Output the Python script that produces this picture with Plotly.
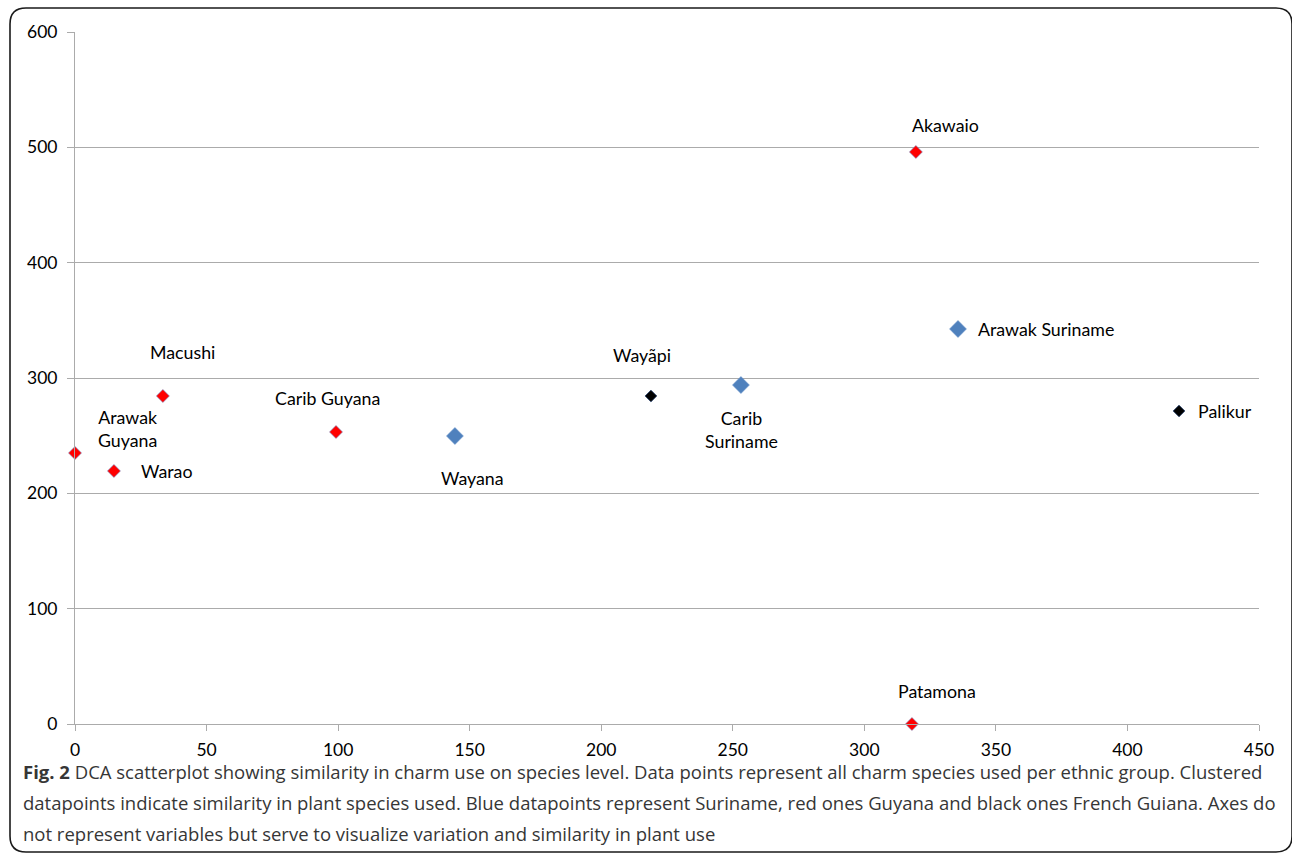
import plotly.graph_objects as go

# DCA scores per ethnic group
groups = ["Arawak Guyana", "Warao", "Macushi", "Carib Guyana", "Wayana", "Wayãpi",
          "Carib Suriname", "Akawaio", "Arawak Suriname", "Palikur", "Patamona"]
axis1 = [0, 14.8, 33.4, 99.2, 144.4, 218.9, 253.1, 319.6, 335.6, 419.6, 318.1]
axis2 = [235, 219.4, 284.4, 253.2, 249.7, 284.4, 293.9, 496, 342.5, 271.4, 0]
country = ["Guyana", "Guyana", "Guyana", "Guyana", "Suriname", "French Guiana",
           "Suriname", "Guyana", "Suriname", "French Guiana", "Guyana"]

x_ticks = [0, 50, 100, 150, 200, 250, 300, 350, 400, 450]
y_ticks = [0, 100, 200, 300, 400, 500, 600]

caption_lines = [
    "<b>Fig. 2</b> DCA scatterplot showing similarity in charm use on species level. "
    "Data points represent all charm species used per ethnic group. Clustered",
    "datapoints indicate similarity in plant species used. Blue datapoints represent "
    "Suriname, red ones Guyana and black ones French Guiana. Axes do",
    "not represent variables but serve to visualize variation and similarity in plant use",
]

W, H = 1292, 854
L, R, T, B = 75, 1259, 32, 724

marker_style = {
    "Guyana": dict(color="#FF0000", size=10, line=dict(color="#6F8FC8", width=0.6)),
    "Suriname": dict(color="#4F81BD", size=13, line=dict(color="#6A94C9", width=0.6)),
    "French Guiana": dict(color="#000000", size=9, line=dict(color="#1F3A66", width=0.8)),
}

# label placement: (xanchor, pixel dx, pixel dy)
label_pos = {
    "Arawak Guyana": ("center", 52, 24),
    "Warao": ("left", 25, 0),
    "Macushi": ("center", 20, 44),
    "Carib Guyana": ("center", -9, 34),
    "Wayana": ("center", 18, -42),
    "Wayãpi": ("center", -9, 41),
    "Carib Suriname": ("center", 1, -44),
    "Akawaio": ("center", 30, 27),
    "Arawak Suriname": ("left", 18, 0),
    "Palikur": ("left", 17, 0),
    "Patamona": ("center", 25, 33),
}
label_text = {"Arawak Guyana": "Arawak<br>Guyana", "Carib Suriname": "Carib<br>Suriname"}

fig = go.Figure()
for c in ["Suriname", "Guyana", "French Guiana"]:
    idx = [i for i, v in enumerate(country) if v == c]
    fig.add_trace(go.Scatter(
        x=[axis1[i] for i in idx], y=[axis2[i] for i in idx],
        mode="markers", name=c, cliponaxis=False,
        marker=dict(symbol="diamond", **marker_style[c]),
        hoverinfo="skip",
    ))

for g, xv, yv in zip(groups, axis1, axis2):
    anchor, dx, dy = label_pos[g]
    fig.add_annotation(
        x=xv, y=yv, text=label_text.get(g, g), showarrow=False,
        xanchor=anchor, yanchor="middle", xshift=dx, yshift=dy,
        font=dict(family="Lato", size=17.8, color="#000000"), align="center",
    )

pw, ph = R - L, B - T


def px(x):
    return (x - L) / pw


def py(y):
    return (B - y) / ph


# caption lines
cap_y = [771, 802, 833]
for line, yy in zip(caption_lines, cap_y):
    fig.add_annotation(
        x=px(21), y=py(yy), xref="paper", yref="paper", text=line, showarrow=False,
        xanchor="left", yanchor="middle",
        font=dict(family="Open Sans", size=18.5, color="#363636"),
    )

# rounded frame around figure and caption
x0, y0, x1, y1, r = 10, 8, 1292, 852, 16
path = (f"M {px(x0 + r)},{py(y0)} L {px(x1 - r)},{py(y0)} "
        f"Q {px(x1)},{py(y0)} {px(x1)},{py(y0 + r)} "
        f"L {px(x1)},{py(y1 - r)} Q {px(x1)},{py(y1)} {px(x1 - r)},{py(y1)} "
        f"L {px(x0 + r)},{py(y1)} Q {px(x0)},{py(y1)} {px(x0)},{py(y1 - r)} "
        f"L {px(x0)},{py(y0 + r)} Q {px(x0)},{py(y0)} {px(x0 + r)},{py(y0)} Z")
fig.add_shape(type="path", path=path, xref="paper", yref="paper",
              line=dict(color="#1A1A1A", width=1.6), layer="above")

grid = "#ABABAB"
fig.update_xaxes(
    range=[0, 450], tickvals=x_ticks, showgrid=False, zeroline=False,
    showline=True, linecolor=grid, linewidth=1,
    ticks="outside", ticklen=6, tickcolor=grid, tickwidth=1, ticklabelstandoff=4,
    tickfont=dict(family="Lato", size=17.5, color="#000000"),
)
fig.update_yaxes(
    range=[0, 600], tickvals=y_ticks, showgrid=True, gridcolor=grid, gridwidth=1,
    zeroline=False, showline=True, linecolor=grid, linewidth=1,
    ticks="outside", ticklen=7, tickcolor=grid, tickwidth=1, ticklabelstandoff=6,
    tickfont=dict(family="Lato", size=17.5, color="#000000"),
)

fig.update_layout(
    width=W, height=H, showlegend=False,
    margin=dict(l=L, r=W - R, t=T, b=H - B, pad=0),
    plot_bgcolor="white", paper_bgcolor="white",
)

fig.write_html("out.html")
